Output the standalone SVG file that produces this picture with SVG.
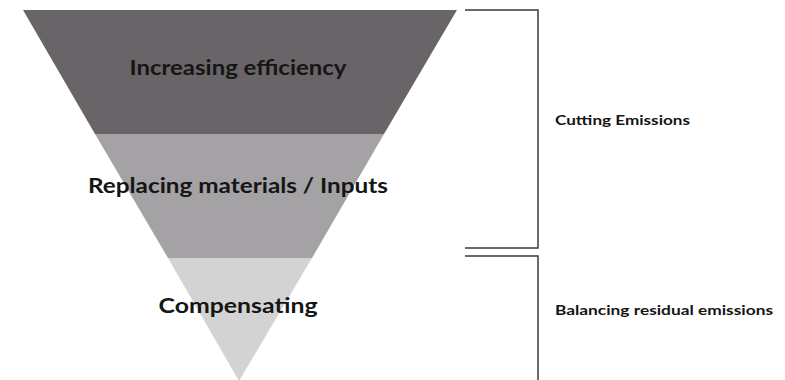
<svg xmlns="http://www.w3.org/2000/svg" width="785" height="380" viewBox="0 0 785 380">
<style>
.lbl{font-family:Lato,"Liberation Sans",sans-serif;font-weight:bold;fill:#151515;text-anchor:middle}
.big{font-size:20px}
.small{font-size:14px;text-anchor:start}
.br{fill:none;stroke:#3a3a3a;stroke-width:1.5}
</style>
<rect width="785" height="380" fill="#ffffff"/>
<g id="band-efficiency">
<polygon points="23,10 457,10 384,134 95,134" fill="#686467"/>
<text class="lbl big" x="238" y="75" textLength="217" lengthAdjust="spacingAndGlyphs">Increasing efficiency</text>
</g>
<g id="band-replacing">
<polygon points="95,134 384,134 312,258 168,258" fill="#a4a2a4"/>
<text class="lbl big" x="238" y="193" textLength="300" lengthAdjust="spacingAndGlyphs">Replacing materials / Inputs</text>
</g>
<g id="band-compensating">
<polygon points="168,258 312,258 239,381" fill="#d3d3d3"/>
<text class="lbl big" x="238" y="313" textLength="159" lengthAdjust="spacingAndGlyphs">Compensating</text>
</g>
<g id="connectors">
<polyline class="br" points="465,10 538,10 538,248 465,248"/>
<polyline class="br" points="465,256 538,256 538,381"/>
</g>
<g id="label-cutting">
<text class="lbl small" x="555" y="125" textLength="135" lengthAdjust="spacingAndGlyphs">Cutting Emissions</text>
</g>
<g id="label-balancing">
<text class="lbl small" x="555" y="315" textLength="218" lengthAdjust="spacingAndGlyphs">Balancing residual emissions</text>
</g>
</svg>
